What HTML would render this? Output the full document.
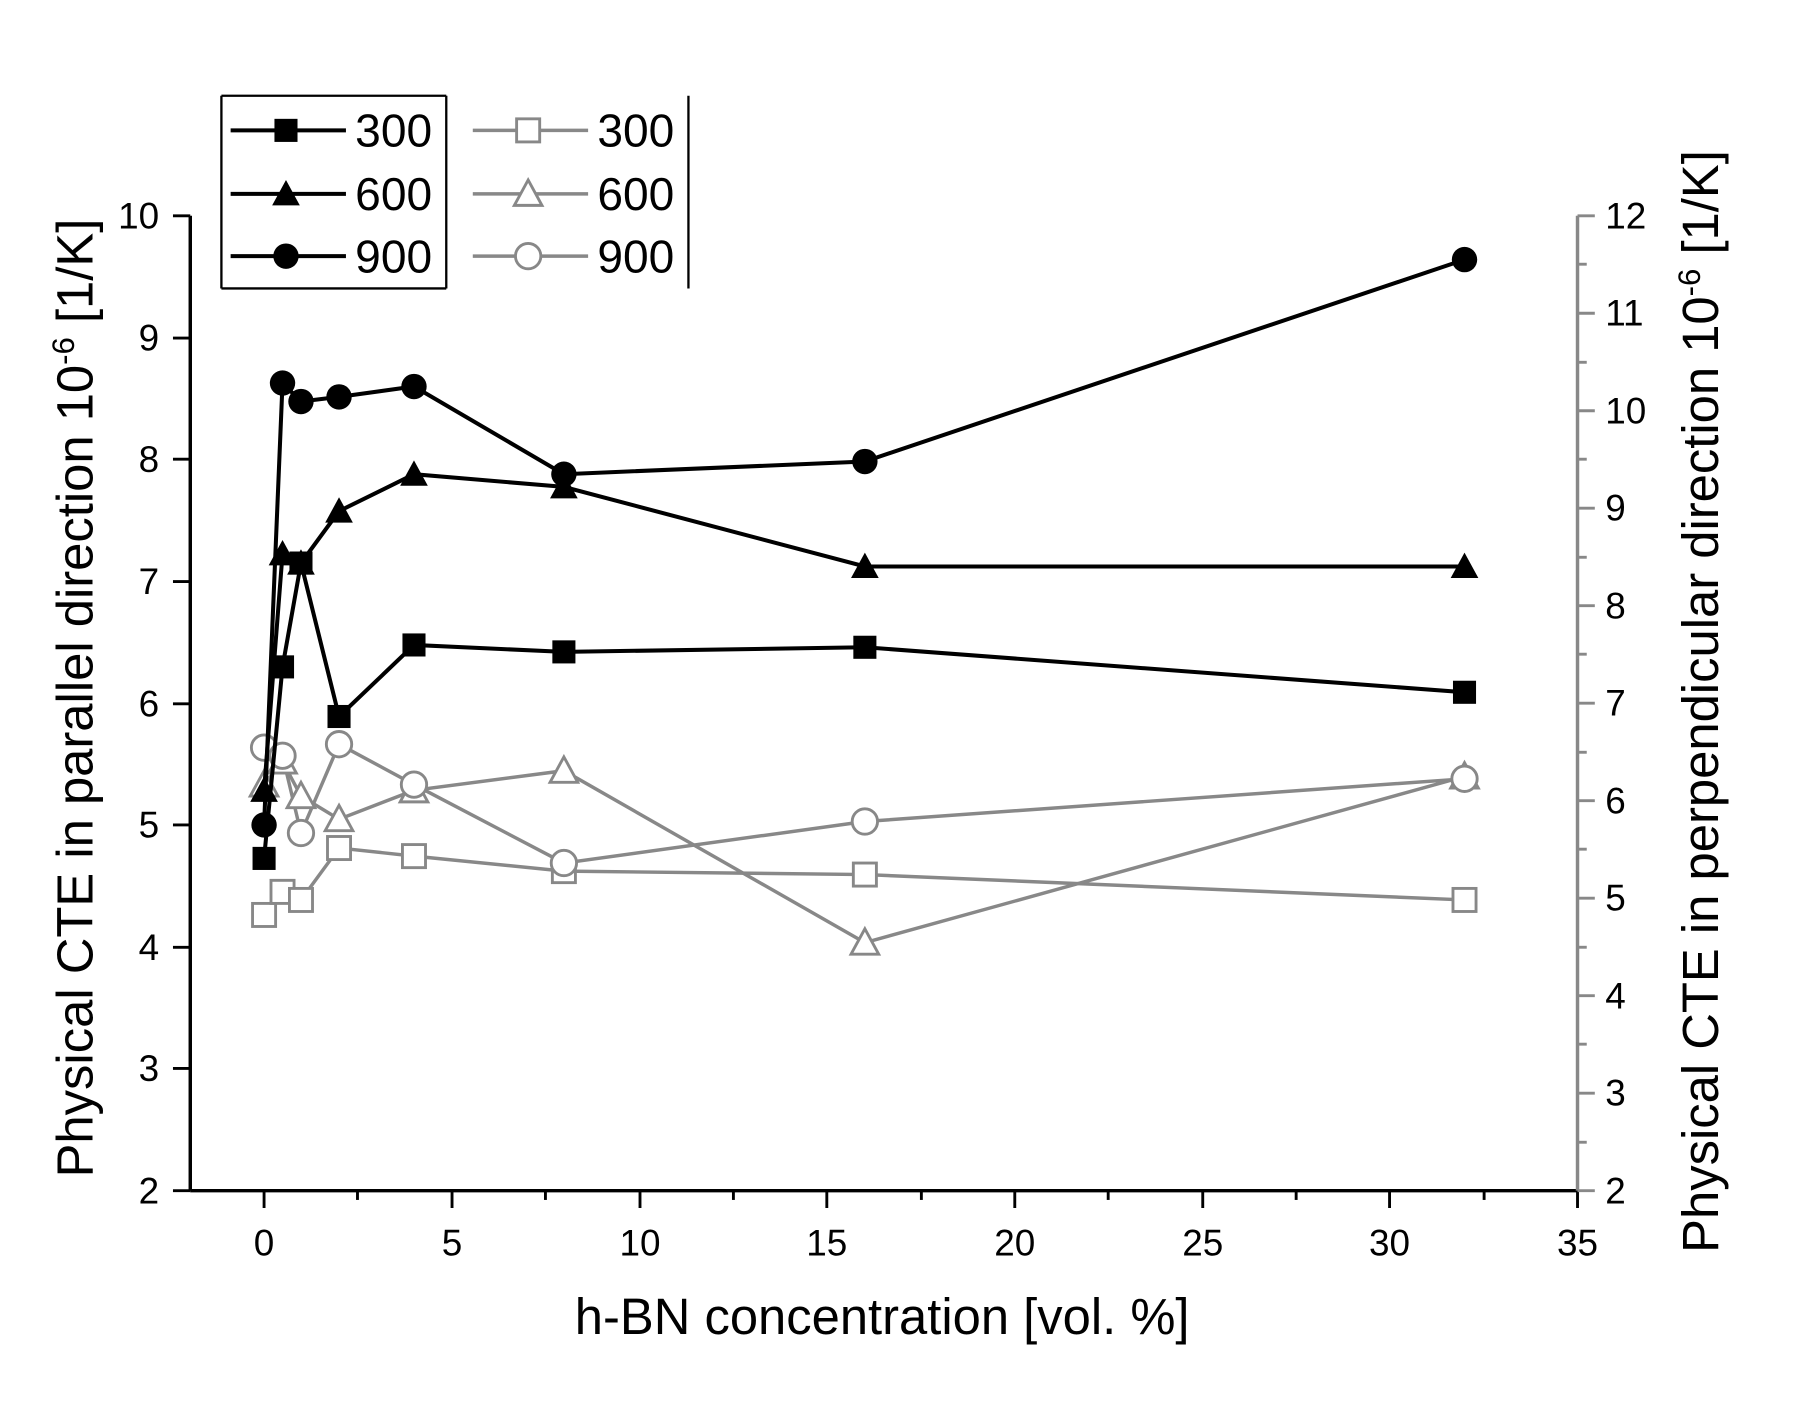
<!DOCTYPE html>
<html><head><meta charset="utf-8"><style>html,body{margin:0;padding:0;background:#fff}svg{display:block}text{font-family:"Liberation Sans",sans-serif}</style></head>
<body>
<svg width="1807" height="1418" viewBox="0 0 1567 1229" preserveAspectRatio="none" xmlns="http://www.w3.org/2000/svg">
<rect width="1567" height="1229" fill="#fff"/>
<defs>
<g id="sq"><rect x="-10" y="-10" width="20" height="20"/></g>
<g id="tr"><polygon points="0,-12 12,10 -12,10"/></g>
<g id="ci"><circle r="11"/></g>
</defs>
<g stroke="#000" stroke-width="3" fill="none">
<line x1="165" y1="187" x2="165" y2="1032"/>
<line x1="165" y1="1032" x2="1368" y2="1032"/>
</g>
<line x1="1368" y1="187" x2="1368" y2="1032" stroke="#888" stroke-width="3"/>
<g stroke="#000" stroke-width="2.5">
<line x1="150" y1="187" x2="165" y2="187"/><line x1="150" y1="293" x2="165" y2="293"/><line x1="150" y1="398" x2="165" y2="398"/><line x1="150" y1="504" x2="165" y2="504"/><line x1="150" y1="610" x2="165" y2="610"/><line x1="150" y1="715" x2="165" y2="715"/><line x1="150" y1="821" x2="165" y2="821"/><line x1="150" y1="926" x2="165" y2="926"/><line x1="150" y1="1032" x2="165" y2="1032"/>
<line x1="229" y1="1032" x2="229" y2="1047"/><line x1="392" y1="1032" x2="392" y2="1047"/><line x1="555" y1="1032" x2="555" y2="1047"/><line x1="717" y1="1032" x2="717" y2="1047"/><line x1="880" y1="1032" x2="880" y2="1047"/><line x1="1043" y1="1032" x2="1043" y2="1047"/><line x1="1205" y1="1032" x2="1205" y2="1047"/><line x1="1368" y1="1032" x2="1368" y2="1047"/>
<line x1="310" y1="1032" x2="310" y2="1040"/><line x1="473" y1="1032" x2="473" y2="1040"/><line x1="636" y1="1032" x2="636" y2="1040"/><line x1="799" y1="1032" x2="799" y2="1040"/><line x1="961" y1="1032" x2="961" y2="1040"/><line x1="1124" y1="1032" x2="1124" y2="1040"/><line x1="1287" y1="1032" x2="1287" y2="1040"/>
</g>
<g stroke="#888" stroke-width="2.5">
<line x1="1368" y1="187" x2="1383" y2="187"/><line x1="1368" y1="271.5" x2="1383" y2="271.5"/><line x1="1368" y1="356" x2="1383" y2="356"/><line x1="1368" y1="440.5" x2="1383" y2="440.5"/><line x1="1368" y1="525" x2="1383" y2="525"/><line x1="1368" y1="609.5" x2="1383" y2="609.5"/><line x1="1368" y1="694" x2="1383" y2="694"/><line x1="1368" y1="778.5" x2="1383" y2="778.5"/><line x1="1368" y1="863" x2="1383" y2="863"/><line x1="1368" y1="947.5" x2="1383" y2="947.5"/><line x1="1368" y1="1032" x2="1383" y2="1032"/>
<line x1="1368" y1="229" x2="1376" y2="229"/><line x1="1368" y1="314" x2="1376" y2="314"/><line x1="1368" y1="398" x2="1376" y2="398"/><line x1="1368" y1="483" x2="1376" y2="483"/><line x1="1368" y1="567" x2="1376" y2="567"/><line x1="1368" y1="652" x2="1376" y2="652"/><line x1="1368" y1="736" x2="1376" y2="736"/><line x1="1368" y1="821" x2="1376" y2="821"/><line x1="1368" y1="905" x2="1376" y2="905"/><line x1="1368" y1="990" x2="1376" y2="990"/>
</g>
<g font-size="32" text-anchor="end" fill="#000">
<text x="138" y="198">10</text><text x="138" y="304">9</text><text x="138" y="409">8</text><text x="138" y="515">7</text><text x="138" y="621">6</text><text x="138" y="726">5</text><text x="138" y="832">4</text><text x="138" y="937">3</text><text x="138" y="1043">2</text>
</g>
<g font-size="32" text-anchor="start" fill="#000">
<text x="1392" y="198">12</text><text x="1392" y="282">11</text><text x="1392" y="367">10</text><text x="1392" y="451">9</text><text x="1392" y="536">8</text><text x="1392" y="620">7</text><text x="1392" y="705">6</text><text x="1392" y="789">5</text><text x="1392" y="874">4</text><text x="1392" y="958">3</text><text x="1392" y="1043">2</text>
</g>
<g font-size="32" text-anchor="middle" fill="#000">
<text x="229" y="1088">0</text><text x="392" y="1088">5</text><text x="555" y="1088">10</text><text x="717" y="1088">15</text><text x="880" y="1088">20</text><text x="1043" y="1088">25</text><text x="1205" y="1088">30</text><text x="1368" y="1088">35</text>
</g>
<text x="765" y="1156" font-size="44" text-anchor="middle">h-BN concentration [vol. %]</text>
<text transform="translate(80,605) rotate(-90)" font-size="44" text-anchor="middle">Physical CTE in parallel direction 10<tspan dy="-16" font-size="27">-6</tspan><tspan dy="16"> [1/K]</tspan></text>
<text transform="translate(1490,608) rotate(-90)" font-size="44" text-anchor="middle">Physical CTE in perpendicular direction 10<tspan dy="-16" font-size="27">-6</tspan><tspan dy="16"> [1/K]</tspan></text>

<g stroke="#888" stroke-width="3" fill="none">
<polyline points="229,793 245,773 261,780 294,735 359,742 489,755 750,758 1270,780"/>
<polyline points="229,680 245,660 261,690 294,710 359,685 489,668 750,817 1270,673"/>
<polyline points="229,648 245,655 261,722 294,645 359,680 489,748 750,712 1270,675"/>
</g>
<g stroke="#888" stroke-width="2.5" fill="#fff">
<use href="#sq" x="229" y="793"/><use href="#sq" x="245" y="773"/><use href="#sq" x="261" y="780"/><use href="#sq" x="294" y="735"/><use href="#sq" x="359" y="742"/><use href="#sq" x="489" y="755"/><use href="#sq" x="750" y="758"/><use href="#sq" x="1270" y="780"/>
<use href="#tr" x="229" y="680"/><use href="#tr" x="245" y="660"/><use href="#tr" x="261" y="690"/><use href="#tr" x="294" y="710"/><use href="#tr" x="359" y="685"/><use href="#tr" x="489" y="668"/><use href="#tr" x="750" y="817"/><use href="#tr" x="1270" y="673"/>
<use href="#ci" x="229" y="648"/><use href="#ci" x="245" y="655"/><use href="#ci" x="261" y="722"/><use href="#ci" x="294" y="645"/><use href="#ci" x="359" y="680"/><use href="#ci" x="489" y="748"/><use href="#ci" x="750" y="712"/><use href="#ci" x="1270" y="675"/>
</g>
<g stroke="#000" stroke-width="3.5" fill="none">
<polyline points="229,744 245,578 261,488 294,621 359,559 489,565 750,561 1270,600"/>
<polyline points="229,685 245,480 261,488 294,443 359,411 489,422 750,491 1270,491"/>
<polyline points="229,715 245,332 261,348 294,344 359,335 489,411 750,400 1270,225"/>
</g>
<g fill="#000" stroke="none">
<use href="#sq" x="229" y="744"/><use href="#sq" x="245" y="578"/><use href="#sq" x="261" y="488"/><use href="#sq" x="294" y="621"/><use href="#sq" x="359" y="559"/><use href="#sq" x="489" y="565"/><use href="#sq" x="750" y="561"/><use href="#sq" x="1270" y="600"/>
<use href="#tr" x="229" y="685"/><use href="#tr" x="245" y="480"/><use href="#tr" x="261" y="488"/><use href="#tr" x="294" y="443"/><use href="#tr" x="359" y="411"/><use href="#tr" x="489" y="422"/><use href="#tr" x="750" y="491"/><use href="#tr" x="1270" y="491"/>
<use href="#ci" x="229" y="715"/><use href="#ci" x="245" y="332"/><use href="#ci" x="261" y="348"/><use href="#ci" x="294" y="344"/><use href="#ci" x="359" y="335"/><use href="#ci" x="489" y="411"/><use href="#ci" x="750" y="400"/><use href="#ci" x="1270" y="225"/>
</g>
<g stroke="#000" stroke-width="2" fill="none">
<line x1="192" y1="83" x2="387" y2="83"/>
<line x1="192" y1="83" x2="192" y2="250"/><line x1="387" y1="83" x2="387" y2="250"/><line x1="192" y1="250" x2="387" y2="250"/>
<line x1="597" y1="83" x2="597" y2="250"/>
</g>
<g stroke="#000" stroke-width="3.5">
<line x1="200" y1="113" x2="300" y2="113"/><line x1="200" y1="168" x2="300" y2="168"/><line x1="200" y1="222" x2="300" y2="222"/>
</g>
<g fill="#000"><use href="#sq" x="248" y="113"/><use href="#tr" x="248" y="168"/><use href="#ci" x="248" y="222"/></g>
<g stroke="#888" stroke-width="3">
<line x1="410" y1="113" x2="510" y2="113"/><line x1="410" y1="168" x2="510" y2="168"/><line x1="410" y1="222" x2="510" y2="222"/>
</g>
<g stroke="#888" stroke-width="2.5" fill="#fff"><use href="#sq" x="458" y="113"/><use href="#tr" x="458" y="168"/><use href="#ci" x="458" y="222"/></g>
<g font-size="40" fill="#000">
<text x="308" y="127">300</text><text x="308" y="182">600</text><text x="308" y="236">900</text>
<text x="518" y="127">300</text><text x="518" y="182">600</text><text x="518" y="236">900</text>
</g>
</svg>
</body></html>
